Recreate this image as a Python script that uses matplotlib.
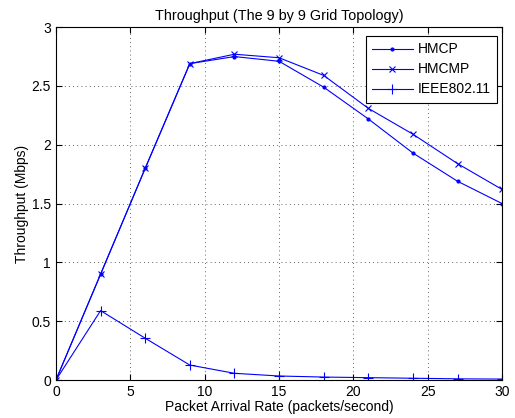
import matplotlib
matplotlib.use("Agg")
import matplotlib.pyplot as plt

# packet arrival rate (packets/second)
rates = [0, 3, 6, 9, 12, 15, 18, 21, 24, 27, 30]

# throughput (Mbps)
hmcp = [0, 0.90, 1.80, 2.69, 2.75, 2.71, 2.49, 2.22, 1.93, 1.69, 1.50]
hmcmp = [0, 0.90, 1.80, 2.69, 2.77, 2.74, 2.59, 2.31, 2.09, 1.84, 1.62]
ieee = [0, 0.59, 0.355, 0.127, 0.057, 0.034, 0.025, 0.02, 0.015, 0.01, 0.008]

plt.rcParams['font.family'] = ['Liberation Sans', 'DejaVu Sans']
plt.rcParams['font.size'] = 10

fig = plt.figure(figsize=(5.15, 4.18), dpi=100)
ax = fig.add_axes([0.1087, 0.0909, 0.8663, 0.8441])

ax.plot(rates, hmcp, color='b', marker='.', markersize=4, linewidth=0.8, label='HMCP')
ax.plot(rates, hmcmp, color='b', marker='x', markersize=4.5, markeredgewidth=0.8,
        linewidth=0.8, label='HMCMP')
ax.plot(rates, ieee, color='b', marker='+', markersize=6.5, markeredgewidth=0.8,
        linewidth=0.8, label='IEEE802.11')

ax.set_xlim(0, 30)
ax.set_ylim(0, 3)
ax.set_xticks(range(0, 31, 5))
ax.set_yticks([0, 0.5, 1, 1.5, 2, 2.5, 3])
ax.set_yticklabels(['0', '0.5', '1', '1.5', '2', '2.5', '3'])
ax.tick_params(direction='in', top=True, right=True, length=4, width=0.8, labelsize=10)
ax.grid(True, linestyle=(0, (1, 4)), color='black', linewidth=0.6, alpha=0.8)
for s in ax.spines.values():
    s.set_linewidth(0.8)

ax.set_xlabel('Packet Arrival Rate (packets/second)', labelpad=1, fontsize=10)
ax.set_ylabel('Throughput (Mbps)', labelpad=2, fontsize=10,
              family=['Liberation Sans Narrow', 'Liberation Sans'])
ax.set_title('Throughput (The 9 by 9 Grid Topology)', pad=5, fontsize=10.4)

leg = ax.legend(loc='upper right', bbox_to_anchor=(0.989, 0.9745), borderaxespad=0,
                fancybox=False, edgecolor='black', framealpha=1,
                handlelength=2.95, handletextpad=0.36, labelspacing=0.43,
                borderpad=0.45, fontsize=10)
leg.get_frame().set_linewidth(0.8)

fig.savefig('out.png', dpi=100)
